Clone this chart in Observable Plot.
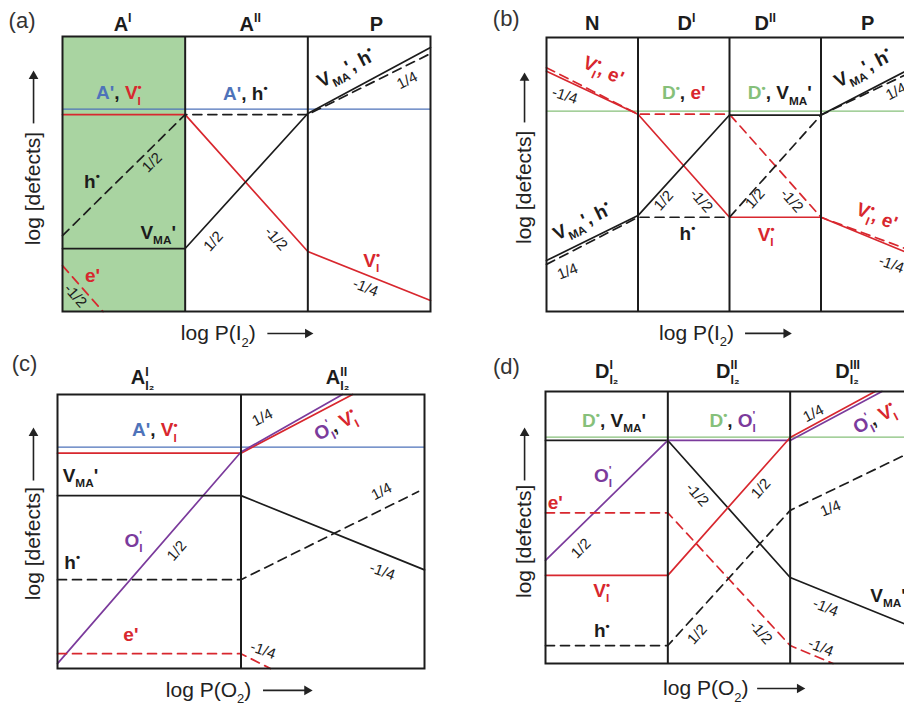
<!DOCTYPE html>
<html>
<head>
<meta charset="utf-8">
<script src="https://cdn.jsdelivr.net/npm/d3@7"></script>
<script src="https://cdn.jsdelivr.net/npm/@observablehq/plot@0.6"></script>
<style>
  html, body { margin: 0; padding: 0; background: #fff; overflow: hidden; }
  #fig { position: relative; width: 904px; height: 708px; overflow: hidden; background: #fff;
         font-family: "Liberation Sans", Arial, Helvetica, sans-serif; }
  #fig svg { position: absolute; }
</style>
</head>
<body>
<div id="fig"></div>
<script>
// ---------- colours ----------
const BLUE = "#4e73ba", RED = "#d8272e", GREEN = "#86c07a", PURPLE = "#7b3b9c",
      INK = "#1c1c1c", SHADE = "#a9d4a1";
const palette = {b: BLUE, r: RED, g: GREEN, p: PURPLE, k: INK};

// Label markup: §x switches colour, _{..} subscript, ^{..} superscript.

// ---------- (a) acceptor-doped, vs log P(I2) ----------
const aColumns = ["A^{I}", "A^{II}", "P"];
const aShadedRange = [0, 1];
const aAcceptor  = [[0, 7.36], [3, 7.36]];                         // A'
const aIodineVac = [[0, 7.16], [1, 7.16], [2, 2.18], [3, 0.40]];   // V_I•
const aLeadVac   = [[0, 2.29], [1, 2.29], [2, 7.2], [3, 9.6]];     // V_MA'
const aHoles     = [[0, 2.76], [1, 7.16], [2, 7.16], [3, 9.38]];   // h•
const aElectrons = [[0, 1.67], [0.33, 0]];                          // e'

// ---------- (b) donor-doped, vs log P(I2) ----------
const bColumns = ["N", "D^{I}", "D^{II}", "P"];
const bDonor     = [[0, 7.31], [4, 7.31]];
const bIodineVac = [[0, 8.77], [1, 7.2], [2, 3.44], [3, 3.44], [4, 2.07]];
const bElectrons = [[0, 8.9], [1, 7.2], [2, 7.2], [3, 3.44], [4, 2.2]];
const bLeadVac   = [[0, 1.86], [1, 3.5], [2, 7.17], [3, 7.17], [4, 8.9]];
const bHoles     = [[0, 1.72], [1, 3.44], [2, 3.44], [3, 7.17], [4, 8.76]];

// ---------- (c) acceptor-doped, vs log P(O2) ----------
const cColumns = ["A^{I}_{I₂}", "A^{II}_{I₂}"];
const cAcceptor  = [[0, 8.08], [2, 8.08]];
const cIodineVac = [[0, 7.86], [1, 7.86], [1.608, 10]];
const cOxygen    = [[0, 0.18], [1, 7.9], [1.553, 10]];
const cLeadVac   = [[0, 6.31], [1, 6.31], [2, 3.6]];
const cHoles     = [[0, 3.24], [1, 3.24], [1.967, 6.46]];
const cElectrons = [[0, 0.54], [1, 0.54], [1.16, 0]];

// ---------- (d) donor-doped, vs log P(O2) ----------
const dColumns = ["D^{I}_{I₂}", "D^{II}_{I₂}", "D^{III}_{I₂}"];
const dDonor     = [[0, 8.32], [3, 8.32]];
const dLeadVac   = [[0, 8.2], [1, 8.2], [2, 3.16], [3, 1.34]];
const dOxygen    = [[0, 3.79], [1, 8.2], [2, 8.2], [2.75, 10]];
const dIodineVac = [[0, 3.24], [1, 3.24], [2, 8.31], [2.694, 10]];
const dElectrons = [[0, 5.54], [1, 5.54], [2, 0.66], [2.35, 0]];
const dHoles     = [[0, 0.66], [1, 0.66], [2, 5.63], [3, 7.8]];

// ---------- panel layouts ----------
const panels = [
  {
    left: 0, top: 0, width: 452, height: 350, margin: [36, 22, 39, 62], xMax: 3,
    shade: aShadedRange,
    lines: [
      {pts: aAcceptor, color: BLUE, w: 1.3},
      {pts: aIodineVac, color: RED},
      {pts: aHoles, color: INK, dashed: true},
      {pts: aLeadVac, color: INK},
      {pts: aElectrons, color: RED, dashed: true}
    ],
    headers: aColumns.map((t, i) => ({text: t, x: [0.49, 1.53, 2.56][i], y: 10.45})),
    tag: {text: "(a)", x: -0.33, y: 10.55},
    species: [
      {x: 0.46, y: 7.95, text: "§bA'§k, §rV_{I}^{•}"},
      {x: 1.49, y: 7.91, text: "§bA'§k, h^{•}"},
      {x: 2.31, y: 8.84, text: "V_{MA}', h^{•}", rotate: -27.5},
      {x: 0.24, y: 4.7, text: "h^{•}"},
      {x: 0.78, y: 2.87, text: "V_{MA}'"},
      {x: 2.52, y: 1.85, text: "§rV_{I}^{•}"},
      {x: 0.245, y: 1.31, text: "§re'"}
    ],
    slopes: [
      {x: 0.73, y: 5.42, text: "1/2", rotate: -45},
      {x: 1.23, y: 2.55, text: "1/2", rotate: -48},
      {x: 1.74, y: 2.65, text: "-1/2", rotate: 48},
      {x: 2.81, y: 8.4, text: "1/4", rotate: -27},
      {x: 2.47, y: 0.87, text: "-1/4", rotate: 22},
      {x: 0.105, y: 0.58, text: "-1/2", rotate: 48}
    ],
    yLabel: {x: -0.236, y: 4.47, text: "log [defects]"},
    xLabel: {x: 1.27, y: -0.8, text: "log P(I_{2})"},
    arrows: [
      {x1: -0.236, y1: 6.84, x2: -0.236, y2: 8.56, rot: 0},
      {x1: 1.67, y1: -0.8, x2: 2.0, y2: -0.8, rot: 90}
    ]
  },
  {
    left: 452, top: 0, width: 470, height: 350, margin: [37, 10, 39, 94], xMax: 4,
    lines: [
      {pts: bDonor, color: GREEN, w: 1.3},
      {pts: bIodineVac, color: RED},
      {pts: bElectrons, color: RED, dashed: true},
      {pts: bLeadVac, color: INK},
      {pts: bHoles, color: INK, dashed: true}
    ],
    headers: bColumns.map((t, i) => ({text: t, x: [0.5, 1.53, 2.39, 3.51][i], y: 10.49})),
    tag: {text: "(b)", x: -0.44, y: 10.69},
    species: [
      {x: 0.62, y: 8.8, text: "§rV_{I}^{•}, e'", rotate: 24.6},
      {x: 1.5, y: 7.96, text: "§gD^{•}§k, §re'"},
      {x: 2.55, y: 7.96, text: "§gD^{•}§k, V_{MA}'"},
      {x: 3.46, y: 8.87, text: "V_{MA}', h^{•}", rotate: -27},
      {x: 0.39, y: 3.28, text: "V_{MA}', h^{•}", rotate: -26},
      {x: 1.54, y: 2.85, text: "h^{•}"},
      {x: 2.4, y: 2.81, text: "§rV_{I}^{•}"},
      {x: 3.61, y: 3.47, text: "§rV_{I}^{•}, e'", rotate: 22}
    ],
    slopes: [
      {x: 0.2, y: 7.88, text: "-1/4", rotate: 18},
      {x: 3.82, y: 8.03, text: "1/4", rotate: -27},
      {x: 1.28, y: 4.05, text: "1/2", rotate: -48},
      {x: 1.69, y: 4.05, text: "-1/2", rotate: 48},
      {x: 2.28, y: 4.12, text: "1/2", rotate: -48},
      {x: 2.68, y: 4.05, text: "-1/2", rotate: 48},
      {x: 0.23, y: 1.46, text: "1/4", rotate: -22},
      {x: 3.77, y: 1.72, text: "-1/4", rotate: 20}
    ],
    yLabel: {x: -0.24, y: 4.53, text: "log [defects]"},
    xLabel: {x: 1.64, y: -0.8, text: "log P(I_{2})"},
    arrows: [
      {x1: -0.24, y1: 6.9, x2: -0.24, y2: 8.52, rot: 0},
      {x1: 2.17, y1: -0.8, x2: 2.62, y2: -0.8, rot: 90}
    ]
  },
  {
    left: 0, top: 340, width: 452, height: 368, margin: [54, 28, 40, 57], xMax: 2,
    lines: [
      {pts: cAcceptor, color: BLUE, w: 1.3},
      {pts: cIodineVac, color: RED},
      {pts: cOxygen, color: PURPLE},
      {pts: cLeadVac, color: INK},
      {pts: cHoles, color: INK, dashed: true},
      {pts: cElectrons, color: RED, dashed: true}
    ],
    headers: cColumns.map((t, i) => ({text: t, x: [0.463, 1.526][i], y: 10.62})),
    tag: {text: "(c)", x: -0.18, y: 11.13},
    species: [
      {x: 0.53, y: 8.69, text: "§bA'§k, §rV_{I}^{•}"},
      {x: 0.125, y: 7.04, text: "V_{MA}'"},
      {x: 0.414, y: 4.67, text: "§pO_{I}^{'}"},
      {x: 0.08, y: 3.87, text: "h^{•}"},
      {x: 0.40, y: 1.24, text: "§re'"},
      {x: 1.515, y: 8.87, text: "§pO_{I}^{'}§k, §rV_{I}^{•}", rotate: -27}
    ],
    slopes: [
      {x: 0.65, y: 4.3, text: "1/2", rotate: -49},
      {x: 1.117, y: 9.16, text: "1/4", rotate: -27},
      {x: 1.766, y: 6.46, text: "1/4", rotate: -27},
      {x: 1.77, y: 3.54, text: "-1/4", rotate: 20},
      {x: 1.12, y: 0.66, text: "-1/4", rotate: 20}
    ],
    yLabel: {x: -0.131, y: 4.56, text: "log [defects]"},
    xLabel: {x: 0.823, y: -0.8, text: "log P(O_{2})"},
    arrows: [
      {x1: -0.131, y1: 6.86, x2: -0.131, y2: 8.59, rot: 0},
      {x1: 1.12, y1: -0.8, x2: 1.36, y2: -0.8, rot: 90}
    ]
  },
  {
    left: 452, top: 340, width: 470, height: 368, margin: [51, 10, 45, 93], xMax: 3,
    lines: [
      {pts: dDonor, color: GREEN, w: 1.3},
      {pts: dLeadVac, color: INK},
      {pts: dOxygen, color: PURPLE},
      {pts: dIodineVac, color: RED},
      {pts: dElectrons, color: RED, dashed: true},
      {pts: dHoles, color: INK, dashed: true}
    ],
    headers: dColumns.map((t, i) => ({text: t, x: [0.5, 1.49, 2.47][i], y: 10.74})),
    tag: {text: "(d)", x: -0.32, y: 10.92},
    species: [
      {x: 0.56, y: 8.93, text: "§gD^{•}§k, V_{MA}'"},
      {x: 1.53, y: 8.93, text: "§gD^{•}§k, §pO_{I}^{'}"},
      {x: 2.69, y: 9.0, text: "§pO_{I}^{'}§k, §rV_{I}^{•}", rotate: -27},
      {x: 0.47, y: 6.91, text: "§pO_{I}^{'}"},
      {x: 0.08, y: 5.92, text: "§re'"},
      {x: 0.46, y: 2.68, text: "§rV_{I}^{•}"},
      {x: 2.80, y: 2.5, text: "V_{MA}'"},
      {x: 0.46, y: 1.18, text: "h^{•}"}
    ],
    slopes: [
      {x: 2.19, y: 9.19, text: "1/4", rotate: -27},
      {x: 1.24, y: 6.21, text: "-1/2", rotate: 48},
      {x: 1.76, y: 6.43, text: "1/2", rotate: -48},
      {x: 2.33, y: 5.7, text: "1/4", rotate: -22},
      {x: 0.29, y: 4.23, text: "1/2", rotate: -45},
      {x: 2.29, y: 2.06, text: "-1/4", rotate: 22},
      {x: 1.24, y: 1.07, text: "1/2", rotate: -48},
      {x: 1.76, y: 1.14, text: "-1/2", rotate: 48},
      {x: 2.25, y: 0.59, text: "-1/4", rotate: 22}
    ],
    yLabel: {x: -0.171, y: 4.49, text: "log [defects]"},
    xLabel: {x: 1.31, y: -0.92, text: "log P(O_{2})"},
    arrows: [
      {x1: -0.171, y1: 6.73, x2: -0.171, y2: 8.47, rot: 0},
      {x1: 1.73, y1: -0.92, x2: 2.078, y2: -0.92, rot: 90}
    ]
  }
];

// ---------- rich text: colour runs, sub/superscripts ----------
function richify(svg) {
  const NS = "http://www.w3.org/2000/svg";
  for (const t of svg.querySelectorAll("text")) {
    const src = t.textContent;
    if (!/[§_^]/.test(src)) continue;
    const fs = parseFloat(getComputedStyle(t).fontSize) || 12;
    const segs = [];
    let color = null, buf = "";
    const flush = () => { if (buf) { segs.push({text: buf, mode: "base", color}); buf = ""; } };
    for (let i = 0; i < src.length; i++) {
      const c = src[i];
      if (c === "§") { flush(); color = palette[src[++i]]; continue; }
      if ((c === "_" || c === "^") && src[i + 1] === "{") {
        flush();
        const end = src.indexOf("}", i);
        segs.push({text: src.slice(i + 2, end), mode: c === "_" ? "sub" : "sup", color});
        i = end;
        continue;
      }
      buf += c;
    }
    flush();
    t.textContent = "";
    let shift = 0, prev = null;
    for (const s of segs) {
      const el = document.createElementNS(NS, "tspan");
      el.textContent = s.text;
      const target = s.mode === "sub" ? 0.3 * fs : s.mode === "sup" ? -0.42 * fs : 0;
      if (target !== shift) el.setAttribute("dy", (target - shift).toFixed(2));
      shift = target;
      if (s.mode !== "base") el.setAttribute("font-size", (0.62 * fs).toFixed(2));
      if (s.color) el.setAttribute("fill", s.color);
      t.appendChild(el);
      if (prev && prev.mode !== "base" && s.mode !== "base" && prev.mode !== s.mode) {
        el.setAttribute("dx", (-prev.el.getComputedTextLength()).toFixed(2));
      }
      prev = {mode: s.mode, el};
    }
  }
}

// ---------- build each panel ----------
const fig = document.getElementById("fig");

for (const p of panels) {
  const [mt, mr, mb, ml] = p.margin;
  const marks = [];
  if (p.shade) {
    marks.push(Plot.rect([{x1: p.shade[0], x2: p.shade[1], y1: 0, y2: 10}],
      {x1: "x1", x2: "x2", y1: "y1", y2: "y2", fill: SHADE}));
  }
  for (const l of p.lines) {
    marks.push(Plot.line(l.pts, {
      x: d => d[0], y: d => d[1], stroke: l.color,
      strokeWidth: l.w ?? 1.7,
      strokeDasharray: l.dashed ? "9,6" : undefined
    }));
  }
  const dividers = d3.range(1, p.xMax);
  marks.push(Plot.ruleX(dividers, {stroke: INK, strokeWidth: 2}));
  marks.push(Plot.frame({stroke: INK, strokeWidth: 2}));

  // column headings
  marks.push(Plot.text(p.headers, {x: "x", y: "y", text: "text", fontSize: 20, fontWeight: "bold", fill: INK}));
  // panel tag
  marks.push(Plot.text([p.tag], {x: "x", y: "y", text: "text", fontSize: 22, fill: "#333"}));
  // species labels
  marks.push(Plot.text(p.species, {x: "x", y: "y", text: "text", rotate: d => d.rotate ?? 0,
    fontSize: 19, fontWeight: "bold", fill: INK}));
  // slope labels
  marks.push(Plot.text(p.slopes, {x: "x", y: "y", text: "text", rotate: d => d.rotate ?? 0,
    fontSize: 15, fill: INK}));
  // axis titles and arrows
  marks.push(Plot.text([p.yLabel], {x: "x", y: "y", text: "text", rotate: -90, fontSize: 21, fill: "#222"}));
  marks.push(Plot.text([p.xLabel], {x: "x", y: "y", text: "text", fontSize: 21, fill: "#222"}));
  marks.push(Plot.link(p.arrows, {x1: "x1", y1: "y1", x2: "x2", y2: "y2", stroke: "#222", strokeWidth: 1.6}));
  marks.push(Plot.dot(p.arrows, {x: "x2", y: "y2", symbol: "triangle", r: 3.6, fill: "#222",
    stroke: null, rotate: "rot"}));

  const svg = Plot.plot({
    width: p.width, height: p.height,
    marginTop: mt, marginRight: mr, marginBottom: mb, marginLeft: ml,
    x: {domain: [0, p.xMax], axis: null},
    y: {domain: [0, 10], axis: null},
    style: {background: "none", overflow: "visible",
            fontFamily: "'Liberation Sans', Arial, Helvetica, sans-serif"},
    marks
  });
  svg.style.left = p.left + "px";
  svg.style.top = p.top + "px";
  svg.style.maxWidth = "none";
  fig.appendChild(svg);
  richify(svg);
}
</script>
</body>
</html>
